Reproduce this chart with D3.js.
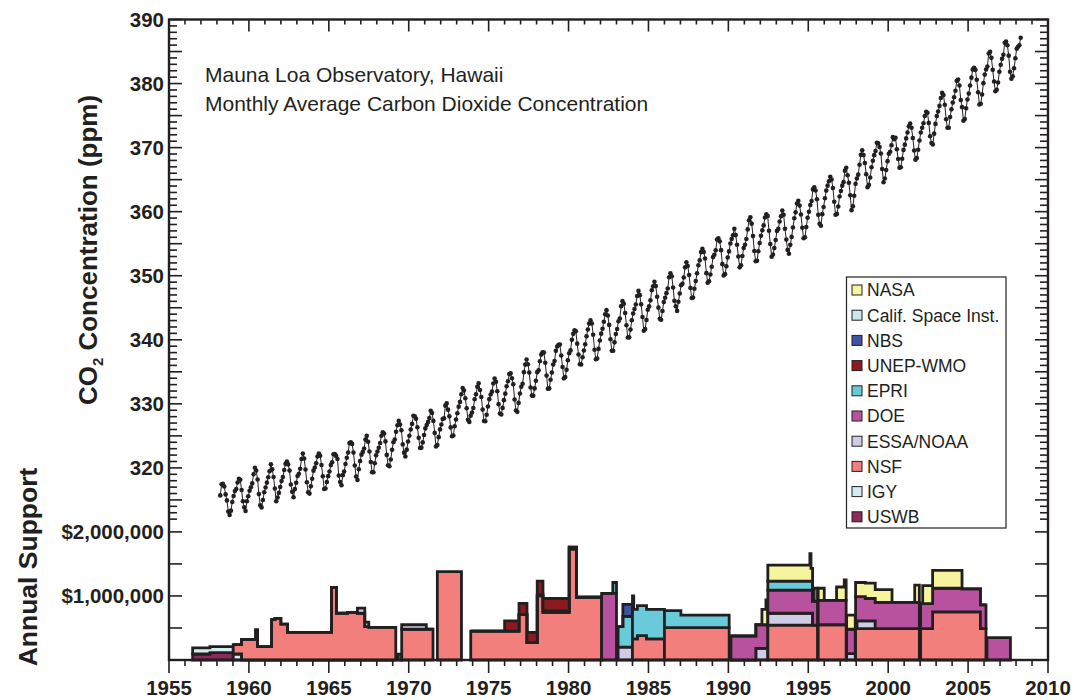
<!DOCTYPE html>
<html><head><meta charset="utf-8">
<script src="https://cdn.jsdelivr.net/npm/d3@7"></script>
<style>body{margin:0;background:#fff}svg{display:block}text{font-family:"Liberation Sans",Arial,Helvetica,sans-serif;fill:#231f20}</style>
</head><body><svg id="c" width="1074" height="700"></svg>
<script>
// ---------- DATA ----------
const titleLines = ["Mauna Loa Observatory, Hawaii", "Monthly Average Carbon Dioxide Concentration"];
const yearTicks = [1955,1960,1965,1970,1975,1980,1985,1990,1995,2000,2005,2010];
const ppmTicks = [320,330,340,350,360,370,380,390];
const moneyTicks = [1, 2]; // $M labelled
const co2Start = [1958, 3]; // year, month of first value
const co2Monthly = [
315.71,317.45,317.50,317.10,315.86,314.93,313.20,312.66,313.33,314.67,
315.62,316.38,316.71,317.72,318.29,318.15,316.54,314.80,313.84,313.26,314.80,315.58,
316.43,316.97,317.58,319.02,320.03,319.59,318.18,315.91,314.16,313.83,315.00,316.19,
316.93,317.70,318.54,319.48,320.58,319.77,318.57,316.79,314.80,315.38,316.10,317.01,
317.94,318.56,319.68,320.63,321.01,320.55,319.58,317.40,316.26,315.42,316.69,317.69,
318.74,319.08,319.86,321.39,322.25,321.47,319.74,317.77,316.21,315.99,317.12,318.31,
319.57,320.07,320.73,321.77,322.25,321.89,320.44,318.70,316.70,316.79,317.79,318.71,
319.44,320.44,320.89,322.13,322.16,321.87,321.39,318.80,317.81,317.30,318.87,319.42,
320.62,321.59,322.39,323.87,324.01,323.75,322.39,320.37,318.64,318.10,319.79,321.08,
322.07,322.50,323.04,324.42,325.00,324.09,322.55,320.92,319.31,319.31,320.72,321.96,
322.57,323.15,323.89,325.02,325.57,325.36,324.14,322.03,320.41,320.25,321.31,322.84,
324.00,324.42,325.64,326.66,327.34,326.76,325.88,323.67,322.38,321.78,322.85,324.11,
325.03,325.99,326.87,328.13,328.07,327.66,326.35,324.69,323.10,323.16,323.98,325.13,
326.17,326.68,327.18,327.78,328.92,328.57,327.34,325.46,323.36,323.57,324.80,326.01,
326.77,327.63,327.75,329.72,330.07,329.09,328.05,326.32,324.93,325.06,326.50,327.55,
328.54,329.56,330.30,331.50,332.48,332.07,330.87,329.31,327.51,327.18,328.16,328.64,
329.35,330.71,331.48,332.65,333.20,332.16,331.07,329.12,327.32,327.28,328.30,329.58,
330.73,331.46,331.90,333.17,333.94,333.45,331.97,329.95,328.50,328.34,329.37,330.58,
331.59,332.75,333.52,334.64,334.77,334.00,333.06,330.68,328.95,328.75,330.15,331.62,
332.66,333.13,334.95,336.13,336.93,336.17,334.88,332.56,331.29,331.27,332.41,333.60,
334.95,335.25,336.66,337.69,338.03,338.01,336.41,334.41,332.37,332.41,333.75,334.90,
336.14,336.69,338.27,338.95,339.21,339.26,337.54,335.75,333.98,334.19,335.31,336.81,
337.90,338.34,340.01,340.93,341.48,341.33,339.40,337.70,336.19,336.15,337.27,338.32,
339.29,340.55,341.61,342.53,343.03,342.54,340.78,338.44,336.95,337.08,338.58,339.88,
340.96,341.73,342.81,343.97,344.63,343.79,342.32,340.09,338.28,338.29,339.60,340.90,
341.68,342.90,343.33,345.25,346.03,345.63,344.19,342.27,340.35,340.38,341.59,343.05,
344.10,344.79,345.52,346.84,347.63,346.97,345.53,343.55,341.40,341.67,343.10,344.70,
345.21,346.16,347.74,348.34,349.06,348.38,346.72,345.02,343.27,343.13,344.49,345.88,
346.56,347.28,348.01,349.77,350.38,349.93,348.16,346.08,345.22,344.51,345.93,347.22,
348.52,348.73,349.73,351.31,352.09,351.53,350.11,348.08,346.52,346.59,347.96,349.16,
350.39,351.64,352.40,353.69,354.21,353.72,352.69,350.40,348.92,349.13,350.20,351.41,
352.91,353.27,353.96,355.64,355.86,355.37,353.99,351.81,350.05,350.25,351.49,352.85,
353.80,355.04,355.73,356.32,357.32,356.34,354.84,353.01,351.31,351.62,353.07,354.33,
354.84,355.73,357.23,358.66,359.13,358.13,356.19,353.85,352.25,352.35,353.81,355.12,
356.25,357.11,357.86,359.09,359.59,359.33,357.01,354.94,352.96,353.32,354.32,355.57,
357.00,357.31,358.47,359.27,360.19,359.52,357.33,355.64,354.03,353.43,354.82,356.06,
357.53,358.98,359.92,361.26,361.68,360.95,359.55,357.49,355.84,356.00,357.59,359.05,
359.98,361.03,361.66,363.48,363.82,363.30,361.94,359.50,358.11,357.80,359.61,360.74,
362.09,363.29,364.06,364.76,365.45,365.01,363.70,361.54,359.51,359.65,360.80,362.38,
363.23,364.06,364.61,366.40,366.84,365.68,364.52,362.57,360.24,360.83,362.49,364.34,
365.17,365.78,367.33,368.87,369.59,368.84,367.59,365.84,363.83,364.18,365.34,366.93,
367.94,368.82,369.46,370.77,370.66,370.10,369.08,366.66,364.60,365.17,366.51,367.89,
369.04,369.35,370.38,371.63,371.32,371.53,369.75,368.23,366.87,366.94,368.27,369.64,
370.46,371.44,372.37,373.33,373.77,373.09,371.51,369.55,368.12,368.38,369.66,371.11,
372.36,373.09,373.81,374.93,375.58,375.44,373.86,371.77,370.73,370.50,372.18,373.70,
374.92,375.63,376.51,377.75,378.54,378.20,376.68,374.43,373.11,373.10,374.77,375.97,
377.03,377.87,378.88,380.42,380.62,379.70,377.43,376.32,374.19,374.47,376.15,377.51,
378.43,379.70,380.92,382.18,382.45,382.14,380.60,378.64,376.73,376.84,378.29,380.06,
381.40,382.20,382.66,384.69,384.94,384.01,382.14,380.31,378.81,379.03,380.17,381.85,
382.94,383.86,384.49,386.37,386.54,385.98,384.36,381.85,380.74,381.15,382.38,383.94,
385.44,385.73,385.97,387.16
];

// funding agencies, stacked bottom -> top
const agencyKeys   = ["USWB","IGY","NSF","ESSA","DOE","EPRI","UNEP","NBS","CSI","NASA"];
const agencyLabels = ["USWB","IGY","NSF","ESSA/NOAA","DOE","EPRI","UNEP-WMO","NBS","Calif. Space Inst.","NASA"];
const agencyColors = ["#8d2a5d","#d3ecf1","#f37f7d","#cfcde6","#b9529e","#69cbd9","#8b1a1f","#3b55a4","#cbe7f0","#f7f49e"];

// annual support in $ millions; each block is a contiguous run of rows {s:start, e:end, agency:amount}
const fundingBlocks = [
 [{s:1956.48,e:1957.56,USWB:.094,IGY:.096},
  {s:1957.56,e:1959.02,USWB:.115,IGY:.095}],
 [{s:1959.02,e:1959.54,IGY:.094,NSF:.146},
  {s:1959.54,e:1960.42,NSF:.32},
  {s:1960.42,e:1960.54,NSF:.47},
  {s:1960.54,e:1961.42,NSF:.21},
  {s:1961.42,e:1961.63,NSF:.63},
  {s:1961.63,e:1962.00,NSF:.65},
  {s:1962.00,e:1962.42,NSF:.56},
  {s:1962.42,e:1965.17,NSF:.43},
  {s:1965.17,e:1965.48,NSF:1.135},
  {s:1965.48,e:1966.17,NSF:.73},
  {s:1966.17,e:1966.79,NSF:.745},
  {s:1966.79,e:1967.25,NSF:.73,ESSA:.08},
  {s:1967.25,e:1967.50,NSF:.52,ESSA:.07},
  {s:1967.50,e:1969.19,NSF:.51}],
 [{s:1969.35,e:1969.56,ESSA:.09}],
 [{s:1969.56,e:1971.10,NSF:.48,ESSA:.07},
  {s:1971.10,e:1971.52,NSF:.48}],
 [{s:1971.79,e:1973.30,NSF:1.38}],
 [{s:1973.88,e:1976.00,NSF:.45},
  {s:1976.00,e:1976.90,NSF:.45,UNEP:.16},
  {s:1976.90,e:1977.40,NSF:.71,UNEP:.175},
  {s:1977.40,e:1978.04,NSF:.27,UNEP:.16},
  {s:1978.04,e:1978.40,NSF:1.0,DOE:.02,UNEP:.21},
  {s:1978.40,e:1980.04,NSF:.745,DOE:.02,UNEP:.195},
  {s:1980.04,e:1980.50,NSF:1.73,DOE:.03},
  {s:1980.50,e:1982.07,NSF:.98}],
 [{s:1982.07,e:1982.77,DOE:1.04},
  {s:1982.77,e:1983.00,DOE:1.04,EPRI:.17}],
 [{s:1983.10,e:1983.40,ESSA:.2,EPRI:.32},
  {s:1983.40,e:1984.00,ESSA:.2,EPRI:.48,NBS:.19}],
 [{s:1984.00,e:1984.08,NSF:.33,EPRI:.67},
  {s:1984.08,e:1984.31,NSF:.33,EPRI:.46},
  {s:1984.31,e:1984.88,NSF:.38,EPRI:.47},
  {s:1984.88,e:1986.00,NSF:.33,EPRI:.46}],
 [{s:1986.00,e:1987.03,NSF:.505,EPRI:.265},
  {s:1987.03,e:1990.05,NSF:.505,EPRI:.195}],
 [{s:1990.16,e:1991.72,DOE:.375},
  {s:1991.72,e:1992.10,ESSA:.18,DOE:.37},
  {s:1992.10,e:1992.35,ESSA:.18,DOE:.37,NASA:.24},
  {s:1992.35,e:1992.47,ESSA:.18,DOE:.37,NASA:.39}],
 [{s:1992.47,e:1995.10,NSF:.545,ESSA:.185,DOE:.36,EPRI:.14,NASA:.25},
  {s:1995.10,e:1995.17,NSF:.545,ESSA:.185,DOE:.36,EPRI:.14,NASA:.43},
  {s:1995.17,e:1995.27,NSF:.545,ESSA:.185,DOE:.36,EPRI:.14,NASA:.20},
  {s:1995.27,e:1995.37,NSF:.545,DOE:.375},
  {s:1995.37,e:1995.58,NSF:.545,DOE:.375,NASA:.2}],
 [{s:1995.62,e:1996.00,NSF:.55,DOE:.38,NASA:.19},
  {s:1996.00,e:1996.77,NSF:.55,DOE:.38},
  {s:1996.77,e:1997.25,NSF:.55,DOE:.38,NASA:.21},
  {s:1997.25,e:1997.37,NSF:.55,DOE:.38,NASA:.32}],
 [{s:1997.40,e:1997.94,ESSA:.1,DOE:.38,NASA:.22}],
 [{s:1997.96,e:1998.04,NSF:.49,DOE:.5,NASA:.22},
  {s:1998.04,e:1998.57,NSF:.49,ESSA:.12,DOE:.38,NASA:.22},
  {s:1998.57,e:1999.19,NSF:.49,ESSA:.12,DOE:.35,NASA:.24},
  {s:1999.19,e:2000.24,NSF:.49,DOE:.41,NASA:.20},
  {s:2000.24,e:2001.66,NSF:.49,DOE:.41},
  {s:2001.66,e:2001.95,NSF:.49,DOE:.41,NASA:.27}],
 [{s:2002.03,e:2002.16,NSF:.49,DOE:.39},
  {s:2002.16,e:2002.78,NSF:.49,DOE:.39,NASA:.28},
  {s:2002.78,e:2004.62,NSF:.75,DOE:.37,NASA:.28},
  {s:2004.62,e:2005.77,NSF:.75,DOE:.36},
  {s:2005.77,e:2006.12,NSF:.49,DOE:.37}],
 [{s:2006.18,e:2007.65,DOE:.35}]
];

// ---------- DRAW ----------
const ink = "#231f20";
const svg = d3.select("#c");
const L = 169, R = 1048, T = 19.5, B = 660;
const x = d3.scaleLinear().domain([1955, 2010]).range([L, R]);
const yP = d3.scaleLinear().domain([320, 390]).range([467.9, T]);
const yM = d3.scaleLinear().domain([0, 2]).range([B, 531.9]);

// funding stacks
const stack = d3.stack().keys(agencyKeys).value((d, k) => d[k] || 0);
const area = d3.area().curve(d3.curveStepAfter)
  .x(d => x(d.data.x)).y0(d => yM(d[0])).y1(d => yM(d[1]));
const gF = svg.append("g");
fundingBlocks.forEach(block => {
  const pts = block.map(r => Object.assign({}, r, {x: r.s}));
  const last = block[block.length - 1];
  pts.push(Object.assign({}, last, {x: last.e}));
  const series = stack(pts);
  series.forEach((ser, i) => {
    if (!ser.some(p => p[1] - p[0] > 1e-9)) return;
    gF.append("path").datum(ser).attr("d", area)
      .attr("fill", agencyColors[i]).attr("stroke", ink)
      .attr("stroke-width", 2.8).attr("stroke-linejoin", "miter");
  });
});

// CO2 series
const co2 = co2Monthly.map((v, i) => {
  const m = co2Start[1] - 1 + i;
  return {t: co2Start[0] + Math.floor(m / 12) + ((m % 12) + 0.5) / 12, v};
});
svg.append("path").datum(co2)
  .attr("d", d3.line().x(d => x(d.t)).y(d => yP(d.v)))
  .attr("fill", "none").attr("stroke", ink).attr("stroke-width", 1);
svg.append("g").selectAll("circle").data(co2).join("circle")
  .attr("cx", d => x(d.t)).attr("cy", d => yP(d.v)).attr("r", 2.3).attr("fill", ink);

// axes ticks
const gT = svg.append("g").attr("stroke", ink).attr("stroke-width", 1.6);
d3.range(1955, 2011).forEach(yr => {
  const major = yr % 5 === 0;
  gT.append("line").attr("x1", x(yr)).attr("x2", x(yr)).attr("y1", B).attr("y2", B + (major ? 13 : 6));
  gT.append("line").attr("x1", x(yr)).attr("x2", x(yr)).attr("y1", T).attr("y2", T + (major ? 12 : 5));
});
d3.range(312, 391).forEach(p => {
  const len = p % 5 === 0 ? 13 : 8;
  gT.append("line").attr("x1", L).attr("x2", L + len).attr("y1", yP(p)).attr("y2", yP(p));
  gT.append("line").attr("x1", R).attr("x2", R - len).attr("y1", yP(p)).attr("y2", yP(p));
});
[0.5, 1, 1.5, 2].forEach(m => {
  gT.append("line").attr("x1", L).attr("x2", L + 13).attr("y1", yM(m)).attr("y2", yM(m));
  gT.append("line").attr("x1", R).attr("x2", R - 13).attr("y1", yM(m)).attr("y2", yM(m));
});
svg.append("rect").attr("x", L).attr("y", T).attr("width", R - L).attr("height", B - T)
  .attr("fill", "none").attr("stroke", ink).attr("stroke-width", 2.4);

// tick labels
const lab = svg.append("g").attr("font-weight", "bold").attr("font-size", 20.5);
yearTicks.forEach(yr => lab.append("text").attr("x", x(yr)).attr("y", 695)
  .attr("text-anchor", "middle").text(yr));
ppmTicks.forEach(p => lab.append("text").attr("x", L - 5).attr("y", yP(p)).attr("dy", "0.36em")
  .attr("text-anchor", "end").text(p));
moneyTicks.forEach(m => lab.append("text").attr("x", L - 5).attr("y", yM(m)).attr("dy", "0.36em")
  .attr("text-anchor", "end").text(d3.format("$,")(m * 1e6)));

// axis titles
const t1 = svg.append("text").attr("transform", "translate(97,250) rotate(-90)")
  .attr("text-anchor", "middle").attr("font-weight", "bold").attr("font-size", 26);
t1.append("tspan").text("CO");
t1.append("tspan").attr("font-size", 15).attr("dy", 6).text("2");
t1.append("tspan").attr("dy", -6).text(" Concentration (ppm)");
svg.append("text").attr("transform", "translate(37,567) rotate(-90)")
  .attr("text-anchor", "middle").attr("font-weight", "bold").attr("font-size", 26.5).text("Annual Support");

// titles
titleLines.forEach((t, i) => svg.append("text").attr("x", 205).attr("y", 82 + i * 29)
  .attr("font-size", 21).text(t));

// legend
const lg = svg.append("g");
lg.append("rect").attr("x", 846.5).attr("y", 277).attr("width", 159.5).attr("height", 251)
  .attr("fill", "#fff").attr("stroke", ink).attr("stroke-width", 1.2);
const order = d3.range(agencyKeys.length).reverse();
order.forEach((i, j) => {
  const cy = 290 + j * 25.2;
  lg.append("rect").attr("x", 852).attr("y", cy - 5).attr("width", 10).attr("height", 10)
    .attr("fill", agencyColors[i]).attr("stroke", ink).attr("stroke-width", 1);
  lg.append("text").attr("x", 867).attr("y", cy).attr("dy", "0.36em").attr("font-size", 17.5)
    .text(agencyLabels[i]);
});
</script>
</body></html>
